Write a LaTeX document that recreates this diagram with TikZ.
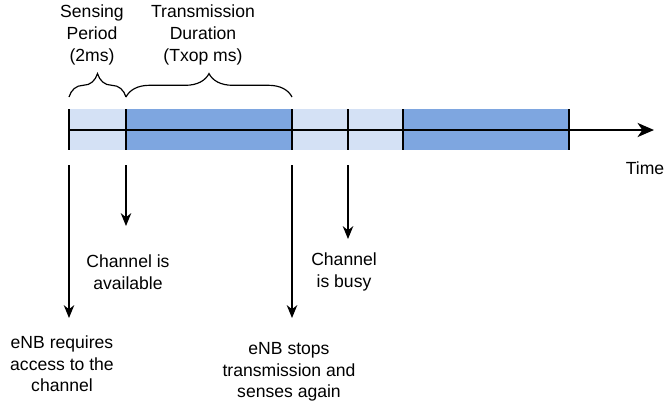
\documentclass[tikz,border=0pt]{standalone}
\usepackage{fontspec}
\setmainfont{Liberation Sans}
\usetikzlibrary{arrows.meta,decorations.pathreplacing}
\definecolor{senseblue}{HTML}{D4E1F5}
\definecolor{txblue}{HTML}{7EA6E0}

\begin{document}
\begin{tikzpicture}[x=0.03cm, y=-0.03cm,
    lbl/.style={align=center, font=\fontsize{15}{18.5}\selectfont},
    tickline/.style={line width=2.3pt},
    down/.style={-{Stealth[length=11pt, width=9pt, inset=3.5pt]}, line width=1.1pt},
    curly/.style={decorate, decoration={brace, amplitude=20pt}, line width=1pt}]
    \useasboundingbox (0,0) rectangle (666,408);

    % Sensing and transmission slots
    \fill[senseblue] (69,109) rectangle (126,150);
    \fill[txblue] (126,109) rectangle (292,150);
    \fill[senseblue] (292,109) rectangle (403,150);
    \fill[txblue] (403,109) rectangle (569,150);

    % Time axis
    \coordinate (axstart) at (69,130);
    \coordinate (axend) at (654,130);
    \draw[line width=1.6pt, -{Stealth[length=14pt, width=12pt, inset=4pt]}] (axstart) -- (axend);
    \node[lbl] (time) at (645,168) {Time};

    % Slot borders
    \draw[tickline] (69,109) -- (69,150);
    \draw[tickline] (126,109) -- (126,150);
    \draw[tickline] (292,109) -- (292,150);
    \draw[tickline] (348,109) -- (348,150);
    \draw[tickline] (403,109) -- (403,150);
    \draw[tickline] (569,109) -- (569,150);

    % Braces
    \draw[curly] (69,97) -- (126,97);
    \draw[curly] (126,97) -- (292,97);
    \node[lbl] (sensing) at (92,35) {Sensing\\Period\\(2ms)};
    \node[lbl] (txdur) at (203,35) {Transmission\\Duration\\(Txop ms)};

    % Events
    \coordinate (req) at (69,165);
    \coordinate (avail) at (126,165);
    \coordinate (stop) at (292,165);
    \coordinate (busy) at (348,165);
    \coordinate (reqend) at (69,318);
    \coordinate (availend) at (126,226);
    \coordinate (stopend) at (292,318);
    \coordinate (busyend) at (348,239);
    \draw[down] (req) -- (reqend);
    \draw[down] (avail) -- (availend);
    \draw[down] (stop) -- (stopend);
    \draw[down] (busy) -- (busyend);

    % Labels
    \node[lbl] (availtxt) at (128,272) {Channel is\\available};
    \node[lbl] (busytxt) at (344,272) {Channel\\is busy};
    \node[lbl] (reqtxt) at (62,364) {eNB requires\\access to the\\channel};
    \node[lbl] (stoptxt) at (289,372) {eNB stops\\transmission and\\senses again};
\end{tikzpicture}
\end{document}
